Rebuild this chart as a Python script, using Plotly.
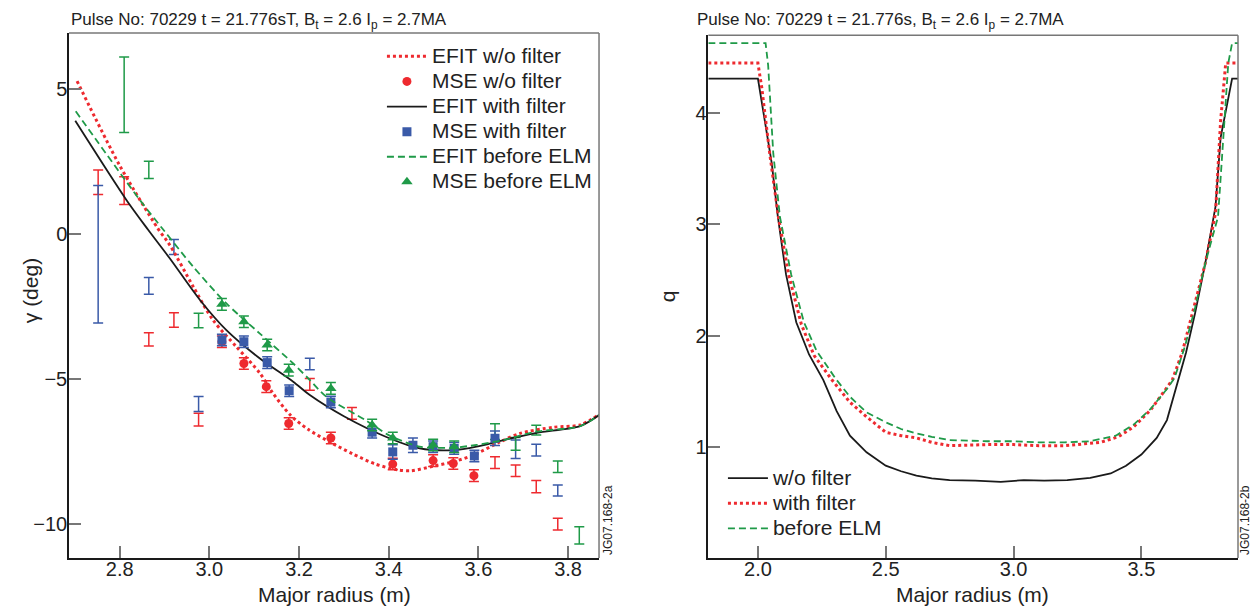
import plotly.graph_objects as go

# ---- left panel: polarisation angle gamma vs major radius ----
r_efit_wo = [2.705, 2.80, 2.885, 2.912, 2.964, 3.008, 3.06, 3.113, 3.142, 3.18, 3.22, 3.27, 3.32,
             3.37, 3.42, 3.45, 3.50, 3.544, 3.589, 3.649, 3.693, 3.767, 3.827, 3.869]
g_efit_wo = [5.26, 2.35, 0.18, -0.40, -1.83, -2.98, -3.9, -4.82, -5.51, -6.25, -6.75, -7.2, -7.6,
             -7.95, -8.15, -8.18, -8.02, -7.87, -7.64, -7.18, -6.89, -6.68, -6.6, -6.24]

r_efit_with = [2.701, 2.815, 2.863, 2.912, 2.979, 3.038, 3.112, 3.187, 3.224, 3.30, 3.40, 3.469,
               3.544, 3.596, 3.656, 3.73, 3.827, 3.869]
g_efit_with = [3.89, 1.16, 0.14, -0.86, -2.29, -3.33, -4.3, -5.11, -5.57, -6.3, -7.05, -7.41,
               -7.47, -7.35, -7.12, -6.87, -6.64, -6.26]

r_efit_elm = [2.702, 2.845, 2.897, 2.964, 3.038, 3.112, 3.187, 3.224, 3.261, 3.35, 3.40, 3.469,
              3.544, 3.596, 3.656, 3.73, 3.827, 3.869]
g_efit_elm = [4.22, 1.16, 0.14, -1.14, -2.41, -3.44, -4.48, -5.05, -5.63, -6.45, -6.95, -7.35,
              -7.38, -7.29, -7.12, -6.83, -6.64, -6.26]

r_mse_wo = [3.028, 3.077, 3.127, 3.177, 3.271, 3.409, 3.499, 3.544, 3.59]
g_mse_wo = [-3.73, -4.48, -5.28, -6.55, -7.05, -7.95, -7.83, -7.93, -8.35]
e_mse_wo = [0.2, 0.2, 0.2, 0.2, 0.2, 0.2, 0.2, 0.2, 0.2]

r_mse_with = [3.028, 3.077, 3.129, 3.178, 3.271, 3.363, 3.409, 3.454, 3.499, 3.546, 3.591, 3.637]
g_mse_with = [-3.67, -3.73, -4.45, -5.42, -5.81, -6.85, -7.53, -7.3, -7.35, -7.41, -7.67, -7.06]
e_mse_with = [0.2, 0.2, 0.2, 0.2, 0.2, 0.2, 0.25, 0.25, 0.2, 0.2, 0.2, 0.25]

r_mse_elm = [3.028, 3.077, 3.129, 3.177, 3.271, 3.363, 3.409, 3.499, 3.546]
g_mse_elm = [-2.44, -3.04, -3.84, -4.71, -5.34, -6.6, -7.05, -7.29, -7.35]
e_mse_elm = [0.2, 0.2, 0.2, 0.2, 0.2, 0.2, 0.2, 0.2, 0.2]

# channels drawn as error bars only
r_bar_red = [2.752, 2.81, 2.865, 2.921, 2.976, 3.224, 3.318, 3.637, 3.683, 3.729, 3.777]
g_bar_red = [1.77, 1.48, -3.65, -2.98, -6.42, -5.2, -6.2, -7.9, -8.18, -8.73, -10.02]
e_bar_red = [0.42, 0.48, 0.23, 0.25, 0.22, 0.2, 0.2, 0.2, 0.2, 0.21, 0.2]

r_bar_blue = [2.752, 2.865, 2.921, 2.976, 3.224, 3.683, 3.729, 3.777]
g_bar_blue = [-0.71, -1.8, -0.46, -5.88, -4.5, -7.44, -7.47, -8.86]
e_bar_blue = [2.37, 0.29, 0.26, 0.26, 0.2, 0.32, 0.2, 0.19]

r_bar_green = [2.81, 2.865, 2.976, 3.637, 3.683, 3.729, 3.777, 3.825]
g_bar_green = [4.79, 2.2, -3.0, -6.83, -7.25, -6.78, -8.04, -10.41]
e_bar_green = [1.3, 0.3, 0.25, 0.27, 0.22, 0.17, 0.2, 0.3]

# ---- right panel: safety factor q vs major radius ----
r_q_wo = [1.806, 2.00, 2.054, 2.078, 2.11, 2.15, 2.20, 2.256, 2.308, 2.36, 2.425, 2.5, 2.56, 2.62,
          2.68, 2.75, 2.85, 2.95, 3.04, 3.12, 3.21, 3.30, 3.38, 3.44, 3.50, 3.56, 3.60, 3.645,
          3.675, 3.71, 3.75, 3.79, 3.81, 3.855, 3.878]
q_wo = [4.31, 4.31, 3.55, 3.07, 2.55, 2.12, 1.83, 1.6, 1.32, 1.10, 0.95, 0.83, 0.78, 0.74,
        0.715, 0.70, 0.695, 0.685, 0.70, 0.695, 0.70, 0.72, 0.76, 0.83, 0.93, 1.08, 1.24, 1.6,
        1.85, 2.2, 2.65, 3.16, 3.78, 4.31, 4.31]

r_q_with = [1.806, 2.00, 2.015, 2.046, 2.08, 2.12, 2.17, 2.22, 2.29, 2.36, 2.425, 2.5, 2.56, 2.62,
            2.68, 2.75, 2.9, 3.0, 3.1, 3.2, 3.34, 3.41, 3.47, 3.536, 3.58, 3.621, 3.66, 3.70,
            3.75, 3.79, 3.81, 3.83, 3.878]
q_with = [4.45, 4.45, 4.23, 3.64, 3.07, 2.55, 2.1, 1.82, 1.6, 1.40, 1.27, 1.13, 1.10, 1.08,
          1.04, 1.01, 1.02, 1.02, 1.01, 1.01, 1.04, 1.09, 1.18, 1.33, 1.47, 1.6, 1.85, 2.2,
          2.65, 3.1, 3.93, 4.45, 4.45]

r_q_elm = [1.806, 2.03, 2.04, 2.06, 2.086, 2.13, 2.18, 2.23, 2.308, 2.36, 2.425, 2.5, 2.56, 2.62,
           2.68, 2.75, 2.9, 3.0, 3.1, 3.2, 3.3, 3.4, 3.47, 3.536, 3.60, 3.63, 3.67, 3.71, 3.75,
           3.80, 3.84, 3.855, 3.878]
q_elm = [4.63, 4.63, 4.43, 3.64, 3.07, 2.55, 2.12, 1.86, 1.6, 1.45, 1.31, 1.22, 1.16, 1.12,
         1.09, 1.06, 1.05, 1.05, 1.04, 1.04, 1.05, 1.10, 1.2, 1.34, 1.52, 1.62, 1.9, 2.25, 2.65,
         3.07, 4.45, 4.63, 4.63]

RED = "#ee2a2f"
BLUE = "#3a5aa8"
GREEN = "#1f9a48"
BLACK = "#1a1a1a"
FONT = "Liberation Sans, Arial, sans-serif"


def big(s):
    # larger legend text while keeping the row spacing of a smaller legend font
    return "<span style='font-size:21px'>" + s + "</span>"


def err(vals, color):
    return dict(type="data", array=vals, visible=True, color=color, thickness=1.5, width=5)


fig = go.Figure()

# error-bar-only channels (no legend)
for rr, gg, ee, col in [(r_bar_red, g_bar_red, e_bar_red, RED),
                        (r_bar_blue, g_bar_blue, e_bar_blue, BLUE),
                        (r_bar_green, g_bar_green, e_bar_green, GREEN)]:
    fig.add_trace(go.Scatter(x=rr, y=gg, mode="markers", showlegend=False,
                             marker=dict(size=1, color="rgba(0,0,0,0)"),
                             error_y=err(ee, col), xaxis="x", yaxis="y"))

fig.add_trace(go.Scatter(x=r_efit_wo, y=g_efit_wo, mode="lines", name=big("EFIT w/o filter"),
                         line=dict(color=RED, width=3, dash="3px,3px", shape="spline", smoothing=0.8),
                         xaxis="x", yaxis="y", legend="legend"))
fig.add_trace(go.Scatter(x=r_mse_wo, y=g_mse_wo, mode="markers", name=big("MSE w/o filter"),
                         marker=dict(color=RED, size=9, symbol="circle"),
                         error_y=err(e_mse_wo, RED), xaxis="x", yaxis="y", legend="legend"))
fig.add_trace(go.Scatter(x=r_efit_with, y=g_efit_with, mode="lines", name=big("EFIT with filter"),
                         line=dict(color=BLACK, width=1.8, shape="spline", smoothing=0.8),
                         xaxis="x", yaxis="y", legend="legend"))
fig.add_trace(go.Scatter(x=r_mse_with, y=g_mse_with, mode="markers", name=big("MSE with filter"),
                         marker=dict(color=BLUE, size=9, symbol="square"),
                         error_y=err(e_mse_with, BLUE), xaxis="x", yaxis="y", legend="legend"))
fig.add_trace(go.Scatter(x=r_efit_elm, y=g_efit_elm, mode="lines", name=big("EFIT before ELM"),
                         line=dict(color=GREEN, width=1.8, dash="7px,4px", shape="spline", smoothing=0.8),
                         xaxis="x", yaxis="y", legend="legend"))
fig.add_trace(go.Scatter(x=r_mse_elm, y=g_mse_elm, mode="markers", name=big("MSE before ELM"),
                         marker=dict(color=GREEN, size=10, symbol="triangle-up"),
                         error_y=err(e_mse_elm, GREEN), xaxis="x", yaxis="y", legend="legend"))

fig.add_trace(go.Scatter(x=r_q_wo, y=q_wo, mode="lines", name=big("w/o filter"),
                         line=dict(color=BLACK, width=1.8),
                         xaxis="x2", yaxis="y2", legend="legend2"))
fig.add_trace(go.Scatter(x=r_q_with, y=q_with, mode="lines", name=big("with filter"),
                         line=dict(color=RED, width=3, dash="3px,3px"),
                         xaxis="x2", yaxis="y2", legend="legend2"))
fig.add_trace(go.Scatter(x=r_q_elm, y=q_elm, mode="lines", name=big("before ELM"),
                         line=dict(color=GREEN, width=1.8, dash="7px,4px"),
                         xaxis="x2", yaxis="y2", legend="legend2"))

axis_common = dict(ticks="inside", ticklen=12, tickwidth=1.5, tickcolor="#777", automargin=False,
                   showline=True, linecolor=BLACK, linewidth=1.5, showgrid=False,
                   zeroline=False, tickfont=dict(size=20, color="#222", family=FONT))
xax = dict(axis_common, ticklabelstandoff=-8)
yax = dict(axis_common, ticklabelstandoff=-4)

# the page body has an 8px margin, so the figure is 8px smaller and margins shifted
fig.update_layout(
    width=1251, height=604,
    paper_bgcolor="white", plot_bgcolor="white",
    margin=dict(l=61, r=21, t=25, b=54),
    font=dict(family=FONT, color="#222"),
    xaxis=dict(domain=[0, 0.4534], range=[2.687, 3.869], tickvals=[2.8, 3.0, 3.2, 3.4, 3.6, 3.8],
               ticktext=["2.8", "3.0", "3.2", "3.4", "3.6", "3.8"], anchor="y", **xax),
    yaxis=dict(domain=[0, 1], range=[-11.19, 6.92], tickvals=[-10, -5, 0, 5], anchor="x", **yax),
    xaxis2=dict(domain=[0.5469, 1.0], range=[1.806, 3.878], tickvals=[2.0, 2.5, 3.0, 3.5],
                ticktext=["2.0", "2.5", "3.0", "3.5"], anchor="y2", **xax),
    yaxis2=dict(domain=[0, 0.9956], range=[0, 4.70], tickvals=[1, 2, 3, 4], anchor="x2", **yax),
    legend=dict(x=0.2677, y=0.989, xanchor="left", yanchor="top", bgcolor="rgba(0,0,0,0)",
                font=dict(size=17, color="#222"), tracegroupgap=0, itemwidth=40),
    legend2=dict(x=0.5594, y=0.1856, xanchor="left", yanchor="top", bgcolor="rgba(0,0,0,0)",
                 font=dict(size=17, color="#222"), tracegroupgap=0, itemwidth=40),
)

# lighter top and right frame lines
for xr, yr in [("x domain", "y domain"), ("x2 domain", "y2 domain")]:
    fig.add_shape(type="line", xref=xr, yref=yr, x0=0, x1=1, y0=1, y1=1, line=dict(color="#777", width=1.5))
    fig.add_shape(type="line", xref=xr, yref=yr, x0=1, x1=1, y0=0, y1=1, line=dict(color="#777", width=1.5))

# panel titles
fig.add_annotation(text="Pulse No: 70229 t = 21.776sT, B<sub>t</sub> = 2.6 I<sub>p</sub> = 2.7MA",
                   xref="paper", yref="paper", x=0.0, y=0.999, xanchor="left", yanchor="bottom",
                   showarrow=False, font=dict(size=17, color="#222"))
fig.add_annotation(text="Pulse No: 70229 t = 21.776s, B<sub>t</sub> = 2.6 I<sub>p</sub> = 2.7MA",
                   xref="paper", yref="paper", x=0.5359, y=0.999, xanchor="left", yanchor="bottom",
                   showarrow=False, font=dict(size=17, color="#222"))

# axis titles
fig.add_annotation(text="Major radius (m)", xref="paper", yref="paper", x=0.2267, y=-0.0704,
                   xanchor="center", yanchor="middle", showarrow=False, font=dict(size=21, color="#222"))
fig.add_annotation(text="Major radius (m)", xref="paper", yref="paper", x=0.7729, y=-0.0704,
                   xanchor="center", yanchor="middle", showarrow=False, font=dict(size=21, color="#222"))
fig.add_annotation(text="γ (deg)", xref="paper", yref="paper", x=-0.0334, y=0.51, textangle=-90,
                   xanchor="center", yanchor="middle", showarrow=False, font=dict(size=21, color="#222"))
fig.add_annotation(text="q", xref="paper", yref="paper", x=0.5116, y=0.4988, textangle=-90,
                   xanchor="center", yanchor="middle", showarrow=False, font=dict(size=21, color="#222"))

# figure ids
fig.add_annotation(text="JG07.168-2a", xref="paper", yref="paper", x=0.4611, y=0.002,
                   xanchor="center", yanchor="bottom", textangle=-90, showarrow=False,
                   font=dict(size=12, color="#222"))
fig.add_annotation(text="JG07.168-2b", xref="paper", yref="paper", x=1.006, y=0.002,
                   xanchor="center", yanchor="bottom", textangle=-90, showarrow=False,
                   font=dict(size=12, color="#222"))

fig.write_html("out.html")
